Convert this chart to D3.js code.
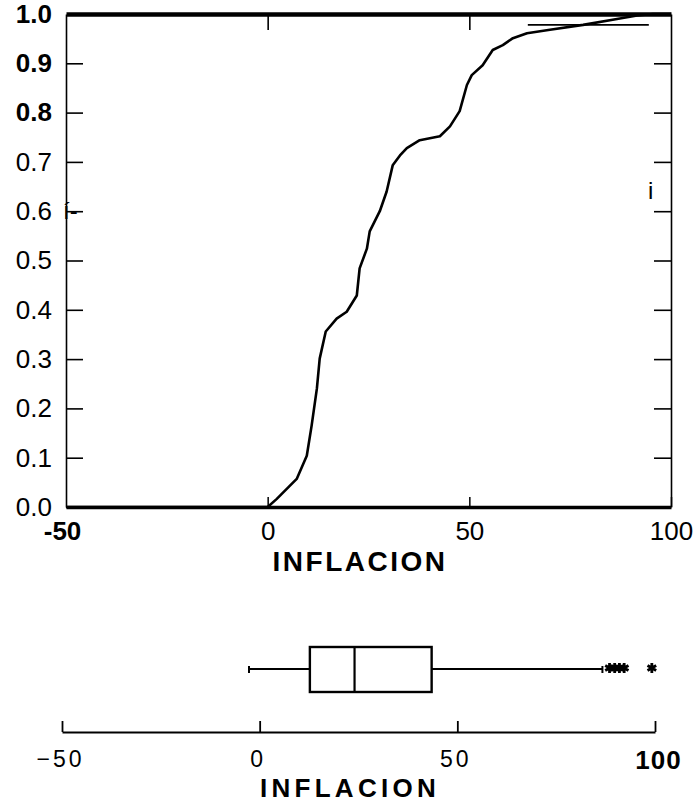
<!DOCTYPE html>
<html lang="es">
<head>
	<meta charset="UTF-8">
	<title>INFLACION</title>
	<style>
		body { margin: 0; background: #fff; }
		svg { display: block; }
		text { font-family: "Liberation Sans", Arial, sans-serif; fill: #000; }
	</style>
</head>
<body>
	<svg width=695 height=803 id="viz"></svg>

	<script src="https://cdn.jsdelivr.net/npm/d3@7"></script>
	<script>

    const cdfX = [-50, 0, 2.2, 7.2, 9.7, 10.9, 12.2, 12.9, 14.4, 17.1, 19.6, 22.1, 22.8, 24.6, 25.3,
                  27.8, 29.5, 31.0, 32.8, 34.5, 37.7, 42.7, 45.2, 47.6, 49.4, 50.6, 53.3, 55.8,
                  58.3, 60.8, 64.3, 70.0, 78.2, 86.6, 91.6, 95.5, 100];
    const cdfP = [0, 0, 0.016, 0.057, 0.104, 0.165, 0.240, 0.301, 0.356, 0.382, 0.396, 0.429, 0.484,
                  0.524, 0.559, 0.600, 0.640, 0.693, 0.713, 0.728, 0.744, 0.752, 0.772, 0.803, 0.856,
                  0.876, 0.896, 0.927, 0.937, 0.951, 0.961, 0.968, 0.978, 0.990, 0.997, 1.0, 1.0];

    // the stray horizontal line near the top (x from, x to, p)
    const refLine = [64.5, 94.5, 0.978];

    // box plot: lower whisker, Q1, median, Q3, upper whisker
    const boxStats = [-2.7, 12.7, 24.0, 43.5, 86.7];
    const outliers = [88.5, 89.8, 91.0, 92.2, 99.2];

    const xTicks = [-50, 0, 50, 100];
    const yTicks = [0, 0.1, 0.2, 0.3, 0.4, 0.5, 0.6, 0.7, 0.8, 0.9, 1.0];
    const yTickLabels = ["0.0", "0.1", "0.2", "0.3", "0.4", "0.5", "0.6", "0.7", "0.8", "0.9", "1.0"];
    const boldYLabels = ["0.8", "0.9", "1.0"];
    const xTitle = "INFLACION";

    const svg = d3.select("#viz");

    // ---------- top panel: cdf ----------
    const x = d3.scaleLinear().domain([-50, 100]).range([66, 671]);
    const y = d3.scaleLinear().domain([0, 1]).range([507, 14]);

    // left axis, ticks pointing inward
    const yAxis = d3.axisLeft(y)
      .tickValues(yTicks)
      .tickSize(-17)
      .tickSizeOuter(0)
      .tickPadding(14)
      .tickFormat((d, i) => yTickLabels[i]);

    const gy = svg.append("g")
      .attr("transform", `translate(${x(-50)},0)`)
      .call(yAxis);
    gy.select(".domain").attr("stroke-width", 1.6);
    gy.selectAll(".tick line").attr("stroke-width", 1.6)
      .filter(d => d === 0 || d === 1).remove();
    gy.selectAll(".tick text")
      .attr("font-size", 26)
      .attr("font-family", "Liberation Sans, Arial, sans-serif")
      .attr("font-weight", (d, i) => boldYLabels.includes(yTickLabels[i]) ? "bold" : "normal");

    // right axis, ticks pointing inward, no labels
    const gr = svg.append("g")
      .attr("transform", `translate(${x(100)},0)`)
      .call(d3.axisRight(y).tickValues(yTicks).tickSize(-17).tickSizeOuter(0).tickFormat(""));
    gr.select(".domain").attr("stroke-width", 1.6);
    gr.selectAll(".tick line").attr("stroke-width", 1.6)
      .filter(d => d === 0 || d === 1).remove();

    // bottom axis
    const gx = svg.append("g")
      .attr("transform", `translate(0,${y(0)})`)
      .call(d3.axisBottom(x).tickValues(xTicks).tickSize(-10).tickSizeOuter(0).tickPadding(15)
        .tickFormat(d => d < 0 ? "-" + Math.abs(d) : d));
    gx.select(".domain").attr("stroke-width", 3.5);
    gx.selectAll(".tick line").attr("stroke-width", 1.5)
      .filter(d => d === -50).remove();
    gx.selectAll(".tick text")
      .attr("font-size", 26)
      .attr("font-family", "Liberation Sans, Arial, sans-serif")
      .attr("font-weight", d => d === -50 ? "bold" : "normal")
      .attr("dx", d => d === -50 ? -4 : 0);

    // top axis
    const gt = svg.append("g")
      .attr("transform", `translate(0,${y(1)})`)
      .call(d3.axisTop(x).tickValues([0, 50]).tickSize(-16).tickSizeOuter(0).tickFormat(""));
    gt.select(".domain").attr("stroke-width", 4.5);
    gt.selectAll(".tick line").attr("stroke-width", 1.6);

    svg.append("text")
      .attr("x", 360)
      .attr("y", 571)
      .attr("text-anchor", "middle")
      .attr("font-size", 28)
      .attr("font-weight", "bold")
      .attr("letter-spacing", 2.5)
      .text(xTitle);

    // stray marks from the scan
    svg.append("text").attr("x", 63).attr("y", 219).attr("font-size", 24).text("í-");
    svg.append("text").attr("x", 648).attr("y", 199).attr("font-size", 24).text("i");

    // cdf curve
    const line = d3.line()
      .x(d => x(d[0]))
      .y(d => y(d[1]))
      .curve(d3.curveLinear);

    svg.append("path")
      .datum(d3.zip(cdfX, cdfP))
      .attr("fill", "none")
      .attr("stroke", "#000")
      .attr("stroke-width", 2.6)
      .attr("stroke-linejoin", "round")
      .attr("d", line);

    svg.append("line")
      .attr("x1", x(refLine[0]))
      .attr("x2", x(refLine[1]))
      .attr("y1", y(refLine[2]))
      .attr("y2", y(refLine[2]))
      .attr("stroke", "#000")
      .attr("stroke-width", 1.8);

    // ---------- bottom panel: box plot ----------
    const xb = d3.scaleLinear().domain([-50, 100]).range([62, 655]);
    const boxTop = 647, boxBottom = 692, midY = 669;

    const gb = svg.append("g")
      .attr("transform", "translate(0,732)")
      .call(d3.axisBottom(xb).tickValues(xTicks).tickSize(-11).tickSizeOuter(0).tickPadding(14));
    gb.select(".domain").attr("stroke-width", 2.2);
    gb.selectAll(".tick line").attr("stroke-width", 1.8);
    gb.selectAll(".tick text")
      .attr("font-size", d => d === 100 ? 26 : 23)
      .attr("font-family", d => d === 100 ? "Liberation Sans, Arial, sans-serif" : "Lato, 'Liberation Sans', sans-serif")
      .attr("font-weight", d => d === 100 ? "bold" : 300)
      .attr("letter-spacing", d => d === 100 ? 1 : 3)
      .attr("dx", d => d === 100 ? 3 : -2)
      .attr("dy", "0.9em");

    svg.append("text")
      .attr("x", 350)
      .attr("y", 797)
      .attr("text-anchor", "middle")
      .attr("font-size", 26)
      .attr("font-weight", "bold")
      .attr("letter-spacing", 4.3)
      .text(xTitle);

    const [wLo, q1, med, q3, wHi] = boxStats;
    const bp = svg.append("g").attr("stroke", "#000").attr("fill", "none");

    bp.append("line").attr("x1", xb(wLo)).attr("x2", xb(q1))
      .attr("y1", midY).attr("y2", midY).attr("stroke-width", 1.8);
    bp.append("line").attr("x1", xb(q3)).attr("x2", xb(wHi))
      .attr("y1", midY).attr("y2", midY).attr("stroke-width", 1.8);
    bp.selectAll(".cap")
      .data([wLo, wHi])
      .enter().append("line")
      .attr("class", "cap")
      .attr("x1", d => xb(d)).attr("x2", d => xb(d))
      .attr("y1", midY - 3).attr("y2", midY + 4)
      .attr("stroke-width", 2);

    bp.append("rect")
      .attr("x", xb(q1))
      .attr("y", boxTop)
      .attr("width", xb(q3) - xb(q1))
      .attr("height", boxBottom - boxTop)
      .attr("stroke-width", 2.4);
    bp.append("line").attr("x1", xb(med)).attr("x2", xb(med))
      .attr("y1", boxTop).attr("y2", boxBottom).attr("stroke-width", 2.2);

    svg.selectAll(".outlier")
      .data(outliers)
      .enter().append("path")
      .attr("class", "outlier")
      .attr("transform", d => `translate(${xb(d)},${midY - 1})`)
      .attr("d", d3.symbol(d3.symbolAsterisk, 70))
      .attr("stroke", "#000")
      .attr("stroke-width", 2.8);

	</script>
</body>
</html>
